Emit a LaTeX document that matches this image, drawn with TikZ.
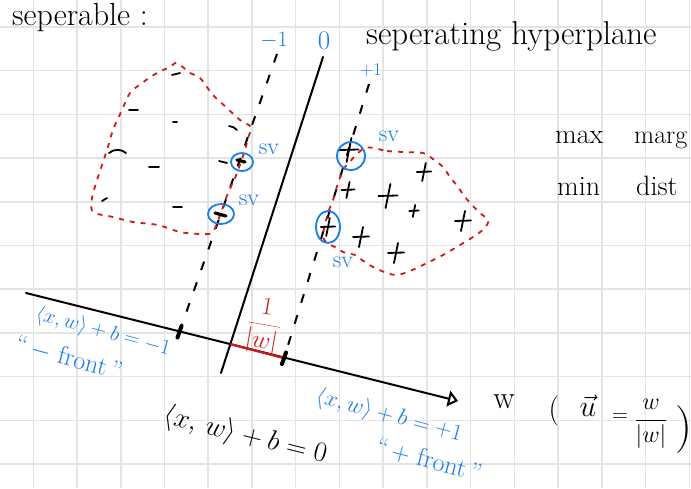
\documentclass[tikz,border=0pt]{standalone}
\usepackage{fix-cm}
\usetikzlibrary{arrows.meta}
\definecolor{inkblue}{RGB}{25,125,235}
\definecolor{inkred}{RGB}{210,25,25}
\definecolor{gridgray}{RGB}{228,228,228}
\newcommand{\myfs}[1]{\fontsize{#1}{#1}\selectfont}
\begin{document}
\begin{tikzpicture}[x=1pt,y=-1pt,
  gridline/.style={gridgray,line width=1.5pt},
  ink/.style={black,line width=2pt,line cap=round},
  dashink/.style={black,line width=2pt,dash pattern=on 9pt off 13pt},
  reddash/.style={inkred,line width=1.8pt,dash pattern=on 5pt off 6pt},
  redseg/.style={inkred,line width=2.2pt},
  tickmark/.style={black,line width=4pt,line cap=round},
  negmark/.style={black,line width=1.8pt,line cap=round},
  svmark/.style={black,line width=3.2pt,line cap=round},
  posmark/.style={black,line width=1.8pt,line cap=round},
  svcircle/.style={draw=inkblue,line width=1.8pt},
  bluetxt/.style={inkblue,inner sep=0pt},
  blacktxt/.style={black,inner sep=0pt},
  redtxt/.style={inkred,inner sep=0pt}]
\useasboundingbox (0,0) rectangle (691,488);
\fill[white] (0,0) rectangle (691,488);
% grid
\foreach \i in {0,...,15} \draw[gridline] ({33.3+43.73*\i},0) -- ({33.3+43.73*\i},488);
\foreach \j in {0,...,10} \draw[gridline] (0,{27+43.7*\j}) -- (691,{27+43.7*\j});

% titles
\node[blacktxt,anchor=base west] (ttlA) at (12,25) {\myfs{32}seperable :};
\node[blacktxt,anchor=base west] (ttlB) at (366,44) {\myfs{33}seperating hyperplane};
\node[blacktxt,anchor=base west] (maxA) at (555,143) {\myfs{28}max};
\node[blacktxt,anchor=base west] (maxB) at (634,143) {\myfs{26}marg};
\node[blacktxt,anchor=base west] (minA) at (557,195) {\myfs{28}min};
\node[blacktxt,anchor=base west] (minB) at (636,195) {\myfs{28}dist};

% main lines
\coordinate (hpTop) at (323,57);
\coordinate (hpBot) at (221,373);
\coordinate (axS) at (26,293);
\coordinate (axE) at (458,401);
\coordinate (hpX) at (intersection of hpTop--hpBot and axS--axE);
\coordinate (lmTop) at (277,54);
\coordinate (lmBot) at (179.5,331.7);
\coordinate (rmTop) at (369,84);
\coordinate (rmBot) at (284,358.2);

\draw[ink] (hpTop) -- (hpBot);
\draw[ink,-{Triangle[open,length=10pt,width=16pt,line width=2pt]}] (axS) -- (axE);
\draw[redseg] (hpX) -- (rmBot);
\draw[dashink] (lmTop) -- (lmBot);
\draw[dashink] (rmTop) -- (rmBot);
\draw[tickmark] (181.5,326) -- (177.5,337.5);
\draw[tickmark] (286,352.5) -- (282,364);

% line labels
\node[bluetxt] (lblM) at (274,40) {\myfs{22}$-1$};
\node[bluetxt] (lblZ) at (324,41) {\myfs{27}0};
\node[bluetxt] (lblP) at (371,70) {\myfs{18}$+1$};
\node[redtxt,rotate=-10] (lblD) at (264,326) {\myfs{25}$\displaystyle\frac{1}{|w|}$};

% negative cluster
\draw[reddash] plot[smooth cycle,tension=0.5] coordinates {
 (177,63) (190,73) (200,78) (213,95) (227,108) (240,120) (251,127) (248,138)
 (245,150) (241,162) (235,178) (228,193) (222,210) (217,223) (212,233)
 (200,234) (180,232) (158,225) (133,222) (113,217) (93,212) (92,198)
 (98,177) (107,150) (113,130) (122,110) (130,93) (142,83) (157,73) (170,67)};
\draw[negmark] (172,75) -- (180,73);
\draw[negmark] (129,110) -- (138,110);
\draw[negmark] (173,122) -- (177,122);
\draw[negmark] (229,126) to[bend left=20] (237,130);
\draw[negmark] (109,153) to[bend left=40] (126,153);
\draw[negmark] (149,167) -- (159,167);
\draw[negmark] (219,161) -- (227,163);
\draw[negmark] (102,201) -- (107,198);
\draw[negmark] (173,207) -- (182,207);
\draw[svmark] (237,160) -- (245,162);
\draw[svmark] (215,213) -- (226,216);
\draw[svcircle] (242,162) ellipse [x radius=11,y radius=9];
\draw[svcircle] (221,214) ellipse [x radius=13,y radius=10];
\node[bluetxt] (svA) at (269,149) {\myfs{24}sv};
\node[bluetxt] (svB) at (249,200) {\myfs{24}sv};

% positive cluster
\draw[reddash] plot[smooth cycle,tension=0.5] coordinates {
 (365,148) (387,151) (403,152) (423,153) (433,159) (443,167) (450,177)
 (458,187) (465,197) (472,205) (480,213) (488,220) (485,228) (473,237)
 (460,245) (443,255) (427,263) (410,271) (397,275) (387,273) (373,267)
 (362,260) (355,255) (343,252) (337,248) (327,243) (323,235) (328,213)
 (333,200) (338,183) (342,173) (346,166)};
\foreach \cx/\cy/\s in {349/150/12, 424/172/9, 348/190/8, 388/196/12, 414/211/6, 463/221/10, 361/237/10, 396/253/10, 328/227/9}
  {\draw[posmark] (\cx+0.2*\s,\cy-\s) -- (\cx-0.2*\s,\cy+\s);
   \draw[posmark] (\cx-\s*0.8,\cy) -- (\cx+\s*0.8,\cy-0.5);}
\draw[svcircle] (351,156) ellipse [x radius=14,y radius=14];
\draw[svcircle] (328,227) ellipse [x radius=12,y radius=16];
\node[bluetxt] (svC) at (389,136) {\myfs{24}sv};
\node[bluetxt] (svD) at (343,262) {\myfs{24}sv};

% equations
\node[bluetxt,rotate=-15] (eqM) at (103,332) {\myfs{21}$\langle x,w\rangle+b=-1$};
\node[bluetxt,rotate=-15] (frM) at (69,358) {\myfs{26}``\,$-$ front\,''};
\node[bluetxt,rotate=-15] (eqP) at (389,416) {\myfs{23}$\langle x,w\rangle+b=+1$};
\node[bluetxt,rotate=-15] (frP) at (429,460) {\myfs{26}``\,$+$ front\,''};
\node[blacktxt,rotate=-14] (eqZ) at (245,436) {\myfs{28}$\langle x,\,w\rangle + b = 0$};

% w and unit vector
\node[blacktxt] (wlab) at (504,402) {\myfs{32}w};
\node[blacktxt] (parL) at (554,411) {\myfs{30}(};
\node[blacktxt] (uvec) at (588,406) {\myfs{30}$\vec{u}$};
\node[blacktxt] (eqs) at (620,418) {\myfs{22}$=$};
\node[blacktxt] (frac) at (651,424) {\myfs{24}$\displaystyle\frac{w}{|w|}$};
\node[blacktxt] (parR) at (684,430) {\myfs{48})};
\end{tikzpicture}
\end{document}
